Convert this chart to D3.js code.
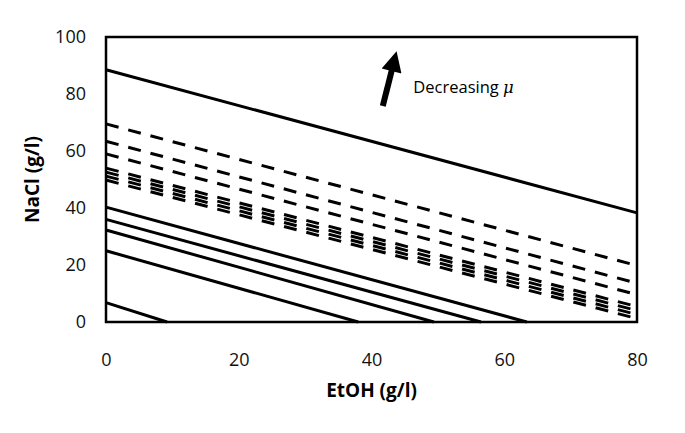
<!DOCTYPE html>
<html lang="en">
  <head>
    <meta charset="UTF-8" />
    <title>NaCl vs EtOH</title>
    <script src="https://d3js.org/d3.v7.min.js"></script>
    <style>
      body { margin: 0; background: white; }
      text { font-family: "Open Sans", Lato, sans-serif; }
      .tick text { font-size: 18px; fill: #111; }
      .axis-title { font-size: 19px; font-weight: bold; }
    </style>
  </head>
  <body>
    <script>
      // line endpoints: [x0, y0, x1, y1]
      const solidLines = [
        [0, 88.5, 80, 38.3],
        [0, 40.3, 63.4, 0],
        [0, 36.0, 56.5, 0],
        [0, 32.3, 49.4, 0],
        [0, 25.0, 38.0, 0],
        [0, 6.8, 9.2, 0]
      ];
      const dashedLines = [
        [0, 69.5, 80, 19.8],
        [0, 63.4, 80, 13.6],
        [0, 59.0, 80, 9.6],
        [0, 54.0, 80, 5.4],
        [0, 52.6, 80, 4.0],
        [0, 51.2, 80, 2.6],
        [0, 49.8, 80, 1.2]
      ];
      const xTicks = [0, 20, 40, 60, 80];
      const yTicks = [0, 20, 40, 60, 80, 100];

      const width = 685;
      const height = 433;
      const margin = { left: 106, right: 48, top: 37, bottom: 111 };

      const svg = d3.select("body").append("svg")
        .attr("width", width)
        .attr("height", height);

      const x = d3.scaleLinear().domain([0, 80]).range([margin.left, width - margin.right]);
      const y = d3.scaleLinear().domain([0, 100]).range([height - margin.bottom, margin.top]);

      // axes (labels only, no tick marks)
      svg.append("g")
        .attr("transform", `translate(0,${height - margin.bottom})`)
        .call(d3.axisBottom(x).tickValues(xTicks).tickSize(0).tickPadding(31))
        .call(g => g.select(".domain").remove());

      svg.append("g")
        .attr("transform", `translate(${margin.left},0)`)
        .call(d3.axisLeft(y).tickValues(yTicks).tickSize(0).tickPadding(20))
        .call(g => g.select(".domain").remove());

      svg.selectAll(".tick text").attr("font-family", null).attr("font-size", null);

      const line = d3.line().x(d => x(d[0])).y(d => y(d[1]));
      const toPts = r => [[r[0], r[1]], [r[2], r[3]]];

      svg.append("g").selectAll("path")
        .data(dashedLines)
        .join("path")
        .attr("d", d => line(toPts(d)))
        .attr("fill", "none")
        .attr("stroke", "black")
        .attr("stroke-width", 3)
        .attr("stroke-dasharray", "13,10");

      svg.append("g").selectAll("path")
        .data(solidLines)
        .join("path")
        .attr("d", d => line(toPts(d)))
        .attr("fill", "none")
        .attr("stroke", "black")
        .attr("stroke-width", 3);

      // plot frame
      svg.append("rect")
        .attr("x", x(0))
        .attr("y", y(100))
        .attr("width", x(80) - x(0))
        .attr("height", y(0) - y(100))
        .attr("fill", "none")
        .attr("stroke", "black")
        .attr("stroke-width", 2.5);

      // arrow + label
      const defs = svg.append("defs");
      defs.append("marker")
        .attr("id", "head")
        .attr("viewBox", "0 0 10 10")
        .attr("refX", 5).attr("refY", 5)
        .attr("markerWidth", 3.8).attr("markerHeight", 3.4)
        .attr("orient", "auto")
        .append("path")
        .attr("d", "M0,0 L10,5 L0,10 Z")
        .attr("fill", "black");

      svg.append("line")
        .attr("x1", x(41.7)).attr("y1", y(75.8))
        .attr("x2", x(43.4)).attr("y2", y(91.5))
        .attr("stroke", "black")
        .attr("stroke-width", 6)
        .attr("marker-end", "url(#head)");

      const lab = svg.append("text")
        .attr("x", x(46.3))
        .attr("y", y(80.4))
        .attr("font-size", 16.5);
      lab.append("tspan").text("Decreasing ");
      lab.append("tspan").attr("font-style", "italic").attr("font-family", "'DejaVu Serif', serif").text("μ");

      svg.append("text")
        .attr("class", "axis-title")
        .attr("x", (x(0) + x(80)) / 2)
        .attr("y", 397)
        .attr("text-anchor", "middle")
        .text("EtOH (g/l)");

      svg.append("text")
        .attr("class", "axis-title")
        .attr("transform", `translate(39,${(y(0) + y(100)) / 2}) rotate(-90)`)
        .attr("text-anchor", "middle")
        .text("NaCl (g/l)");
    </script>
  </body>
</html>
